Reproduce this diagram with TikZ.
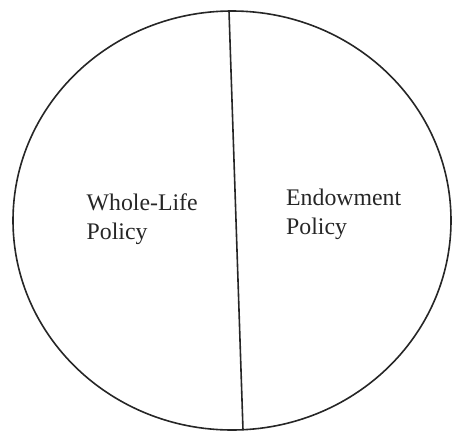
\documentclass[tikz,border=0pt]{standalone}
\usepackage{fontspec}
\setmainfont{Liberation Serif}
\begin{document}
\begin{tikzpicture}[x=1pt,y=-1pt,
    etichetta/.style={anchor=north west, inner sep=0pt, align=left,
        font=\fontsize{23.8}{29}\selectfont, text=black!85}]
    % Riquadro della figura
    \useasboundingbox (0,0) rectangle (452,431);

    % Cerchio esterno
    \draw[line width=1.6pt, black!85] (232,220.5) ellipse [x radius=219, y radius=209.5];

    % Linea di divisione
    \coordinate (alto) at (229,11);
    \coordinate (basso) at (243,430);
    \draw[line width=1.6pt, black!85] (alto) -- (basso);

    % Testi delle due parti
    \node[etichetta] (vita) at (86.5,194) {Whole-Life\\Policy};
    \node[etichetta] (misto) at (286,189) {Endowment\\Policy};
\end{tikzpicture}
\end{document}
